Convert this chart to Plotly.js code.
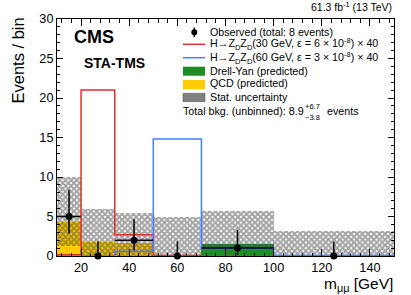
<!DOCTYPE html>
<html>
<head>
<meta charset="utf-8">
<script src="https://cdn.plot.ly/plotly-3.0.1.min.js"></script>
<style>html,body{margin:0;padding:0;background:#fff;}#chart{width:411px;height:295px;}</style>
</head>
<body>
<div id="chart"></div>
<script>
// ---- data ----
const binEdges   = [10, 20, 34, 50, 70, 100, 150];
const observed   = [5, 0, 2, 0, 1, 0];
const obsErrUp   = [3.38, 1.84, 2.64, 1.84, 2.30, 1.84];
const obsErrDown = [2.16, 0, 1.29, 0, 0.83, 0];
const sig30      = [0.15, 21.0, 2.7, 0.05, 0, 0];
const sig60      = [0, 0, 0.6, 14.8, 0.95, 0.05];
const qcd        = [4.3, 1.75, 1.6, 0.1, 0, 0];
const drellYan   = [0, 0, 0, 0.05, 1.55, 0.05];
const statLow    = [1.3, 0, 0, 0, 0.9, 0];
const statHigh   = [10.0, 6.0, 5.4, 4.95, 5.7, 3.2];
const xTicks     = [20, 40, 60, 80, 100, 120, 140];
const yTicks     = [0, 5, 10, 15, 20, 25, 30];

// ---- derived ----
const centers = binEdges.slice(0, -1).map((e, i) => (e + binEdges[i + 1]) / 2);
const widths  = binEdges.slice(0, -1).map((e, i) => binEdges[i + 1] - e);
const halfW   = observed.map((v, i) => v > 0 ? widths[i] / 2 : 0);
const stepY   = a => a.concat([a[a.length - 1]]);

const FONT = 'Liberation Sans, Arial, Helvetica, sans-serif';
const RED = '#e0302c', BLUE = '#4a7cff', GREEN = '#1f8b24', YELLOW = '#ffcc00';

const traces = [
  { type: 'bar', x: centers, y: drellYan, width: widths, base: 0,
    marker: { color: GREEN, line: { width: 0 } }, name: 'Drell-Yan', hoverinfo: 'skip' },
  { type: 'bar', x: centers, y: qcd, width: widths, base: drellYan,
    marker: { color: YELLOW, line: { width: 0 } }, name: 'QCD', hoverinfo: 'skip' },
  { type: 'bar', x: centers, y: statHigh.map((h, i) => h - statLow[i]), base: statLow, width: widths,
    marker: { color: 'rgba(0,0,0,0)', line: { width: 0 },
      pattern: { shape: 'x', size: 4, solidity: 0.75, fgcolor: '#4a4a4a', bgcolor: 'rgba(0,0,0,0)', fillmode: 'overlay' } },
    name: 'Stat', hoverinfo: 'skip' },
  { type: 'scatter', mode: 'lines', x: binEdges, y: stepY(sig30), line: { shape: 'hv', color: RED, width: 1.5 },
    name: '30', hoverinfo: 'skip' },
  { type: 'scatter', mode: 'lines', x: binEdges, y: stepY(sig60), line: { shape: 'hv', color: BLUE, width: 1.5 },
    name: '60', hoverinfo: 'skip' },
  { type: 'scatter', mode: 'markers', x: centers, y: observed, cliponaxis: false,
    marker: { color: 'black', size: 7 },
    error_y: { type: 'data', symmetric: false, array: obsErrUp, arrayminus: obsErrDown, width: 0, thickness: 1.5, color: 'black' },
    error_x: { type: 'data', array: halfW, width: 0, thickness: 1.5, color: 'black' },
    name: 'Observed', hoverinfo: 'skip' }
];

// pixel -> paper helpers for overlay texts
const L = 57, R = 394, T = 19, B = 256;
const px = x => (x - L) / (R - L);
const py = y => (B - y) / (B - T);

const LF = 10.7;
function txt(x, y, text, opts) {
  return Object.assign({ xref: 'paper', yref: 'paper', x: px(x), y: py(y), text: text, showarrow: false,
    xanchor: 'left', yanchor: 'middle', font: { family: FONT, size: LF, color: 'black' } }, opts || {});
}

const annotations = [
  txt(72, 37, '<b>CMS</b>', { font: { family: FONT, size: 18, color: 'black' } }),
  txt(82, 63, '<b>STA-TMS</b>', { font: { family: FONT, size: 14, color: 'black' } }),
  txt(394, 7, '61.3 fb<sup>-1</sup> (13 TeV)', { xanchor: 'right', font: { family: FONT, size: 10.5, color: 'black' } }),
  txt(17.5, 16, 'Events / bin', { xanchor: 'center', yanchor: 'top', textangle: -90, font: { family: FONT, size: 16.5, color: 'black' } }),
  txt(395, 284, 'm<sub>μμ</sub> [GeV]', { xanchor: 'right', font: { family: FONT, size: 15.5, color: 'black' } }),
  txt(208, 32.3, 'Observed (total: 8 events)'),
  txt(208, 44.3, 'H→Z<sub>D</sub>Z<sub>D</sub>(30 GeV, ε = 6 × 10<sup>-8</sup>) × 40'),
  txt(208, 57.7, 'H→Z<sub>D</sub>Z<sub>D</sub>(60 GeV, ε = 3 × 10<sup>-8</sup>) × 40'),
  txt(208, 70.7, 'Drell-Yan (predicted)'),
  txt(208, 83.3, 'QCD (predicted)'),
  txt(208, 97.3, 'Stat. uncertainty'),
  txt(181, 111, 'Total bkg. (unbinned): 8.9'),
  txt(303, 106.5, '+6.7', { font: { family: FONT, size: 7.5, color: 'black' } }),
  txt(303, 117.5, '−3.8', { font: { family: FONT, size: 7.5, color: 'black' } }),
  txt(325, 111, 'events')
];

const shapes = [
  { type: 'line', xref: 'paper', yref: 'paper', x0: px(194.3), x1: px(194.3), y0: py(27.5), y1: py(37), line: { color: 'black', width: 1.5 } },
  { type: 'circle', xref: 'paper', yref: 'paper', x0: px(191.3), x1: px(197.3), y0: py(29.3), y1: py(35.3), fillcolor: 'black', line: { width: 0 } },
  { type: 'line', xref: 'paper', yref: 'paper', x0: px(183), x1: px(205), y0: py(44.3), y1: py(44.3), line: { color: RED, width: 1.5 } },
  { type: 'line', xref: 'paper', yref: 'paper', x0: px(183), x1: px(205), y0: py(57.7), y1: py(57.7), line: { color: BLUE, width: 1.5 } },
  { type: 'rect', xref: 'paper', yref: 'paper', x0: px(183), x1: px(205), y0: py(75.7), y1: py(66.7), fillcolor: GREEN, line: { width: 0 } },
  { type: 'rect', xref: 'paper', yref: 'paper', x0: px(183), x1: px(205), y0: py(89.3), y1: py(80), fillcolor: YELLOW, line: { width: 0 } },
  { type: 'rect', xref: 'paper', yref: 'paper', x0: px(183), x1: px(205), y0: py(101.7), y1: py(93.3), fillcolor: '#808080', line: { color: '#4a4a4a', width: 0.5 } }
];

const axisCommon = {
  ticks: 'inside', tickcolor: 'black', tickwidth: 1, mirror: 'allticks',
  showline: true, linecolor: 'black', linewidth: 1, showgrid: false, zeroline: false,
  tickfont: { family: FONT, size: 12.7, color: 'black' }
};

const layout = {
  width: 411, height: 295,
  margin: { l: L, r: 411 - R, t: T, b: 295 - B, pad: 0 },
  paper_bgcolor: 'white', plot_bgcolor: 'white',
  showlegend: false, barmode: 'overlay', bargap: 0,
  font: { family: FONT, color: 'black' },
  xaxis: Object.assign({}, axisCommon, {
    range: [10, 150], tickmode: 'array', tickvals: xTicks, ticklen: 7,
    minor: { dtick: 4, tick0: 0, ticks: 'inside', ticklen: 3.5, tickwidth: 1, tickcolor: 'black', showgrid: false }
  }),
  yaxis: Object.assign({}, axisCommon, {
    range: [0, 30], tickmode: 'array', tickvals: yTicks, ticklen: 6,
    minor: { dtick: 1, tick0: 0, ticks: 'inside', ticklen: 3, tickwidth: 1, tickcolor: 'black', showgrid: false }
  }),
  annotations: annotations,
  shapes: shapes
};

Plotly.newPlot('chart', traces, layout, { staticPlot: true, displayModeBar: false });
</script>
</body>
</html>
